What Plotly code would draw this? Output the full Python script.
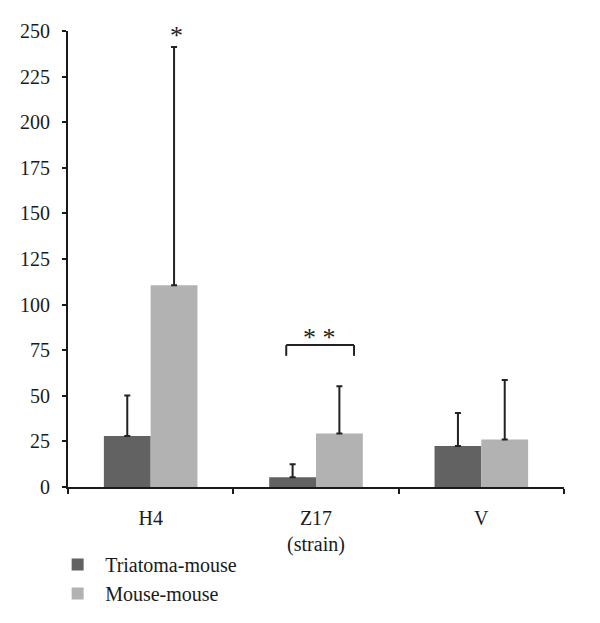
import plotly.graph_objects as go

categories = ["H4", "Z17", "V"]
triatoma_mouse = [28.0, 5.3, 22.5]
triatoma_err = [22.2, 7.2, 18.1]
mouse_mouse = [110.6, 29.3, 26.0]
mouse_err = [130.6, 26.0, 32.6]
y_ticks = [0, 25, 50, 75, 100, 125, 150, 175, 200, 225, 250]

FONT = "Liberation Serif"

fig = go.Figure()
fig.add_trace(go.Bar(
    x=categories, y=triatoma_mouse, name="Triatoma-mouse",
    marker=dict(color="#626262", line=dict(width=0)),
    error_y=dict(type="data", array=triatoma_err, arrayminus=[0, 0, 0], symmetric=False,
                 color="#222222", thickness=2, width=3),
))
fig.add_trace(go.Bar(
    x=categories, y=mouse_mouse, name="Mouse-mouse",
    marker=dict(color="#b2b2b2", line=dict(width=0)),
    error_y=dict(type="data", array=mouse_err, arrayminus=[0, 0, 0], symmetric=False,
                 color="#222222", thickness=2, width=3),
))

# significance bracket for Z17
bx0, bx1, by0, by1 = 0.82, 1.23, 71.9, 77.8
for (xa, ya, xb, yb) in [(bx0, by0, bx0, by1), (bx0, by1, bx1, by1), (bx1, by1, bx1, by0)]:
    fig.add_shape(type="line", xref="x", yref="y", x0=xa, y0=ya, x1=xb, y1=yb,
                  line=dict(color="#222222", width=2))

fig.add_annotation(x="H4", y=mouse_mouse[0] + mouse_err[0], text="*", showarrow=False,
                   xshift=26, yanchor="bottom", yshift=-5,
                   font=dict(family=FONT, size=26, color="#222222"))
fig.add_annotation(x=1.02, y=by1, text="* *", showarrow=False,
                   yanchor="bottom", yshift=-9,
                   font=dict(family=FONT, size=26, color="#222222"))

fig.update_layout(
    width=600, height=623,
    margin=dict(l=60, r=44, t=23, b=144, autoexpand=False),
    plot_bgcolor="white", paper_bgcolor="white",
    barmode="group", bargap=0.434, bargroupgap=0,
    font=dict(family=FONT, size=20, color="#1a1a1a"),
    showlegend=True,
    legend=dict(x=-0.036, y=-0.127, xanchor="left", yanchor="top",
                font=dict(family=FONT, size=20, color="#1a1a1a"),
                itemwidth=45,
                tracegroupgap=0, bgcolor="rgba(0,0,0,0)"),
)
fig.update_xaxes(
    showline=True, linecolor="#1a1a1a", linewidth=2,
    ticks="outside", tickson="boundaries", ticklen=5, tickwidth=1.5, tickcolor="#1a1a1a",
    showgrid=False, ticklabelstandoff=12, automargin=False,
    title=dict(text="(strain)", standoff=9, font=dict(family=FONT, size=20)),
)
fig.update_yaxes(
    range=[0, 250], tickvals=y_ticks,
    showline=True, linecolor="#1a1a1a", linewidth=2,
    ticks="outside", ticklen=4, tickwidth=1.5, tickcolor="#1a1a1a",
    showgrid=False, zeroline=False, ticklabelstandoff=8, automargin=False,
)

fig.write_html("out.html")
